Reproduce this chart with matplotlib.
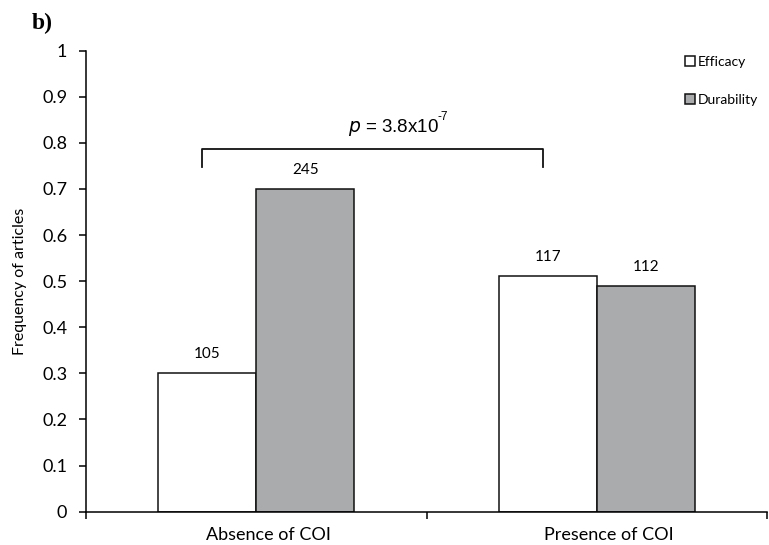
import numpy as np
import matplotlib.pyplot as plt

# Data (counts from the figure, frequencies = count / group total)
groups = ['Absence of COI', 'Presence of COI']
series = ['Efficacy', 'Durability']
counts_efficacy = [105, 117]
counts_durability = [245, 112]
freq_efficacy = [0.30, 0.511]
freq_durability = [0.70, 0.489]

plt.rcParams['font.family'] = ['Lato', 'DejaVu Sans']

fig = plt.figure(figsize=(7.69, 5.45), dpi=100)
ax = fig.add_axes([86 / 769, 1 - 511.7 / 545, 681 / 769, 461 / 545])

x = np.arange(len(groups))
w = 0.288
ax.bar(x - w / 2, freq_efficacy, w, color='white', edgecolor='#111111', linewidth=1.1, label=series[0])
ax.bar(x + w / 2, freq_durability, w, color='#a9abac', edgecolor='#111111', linewidth=1.1, label=series[1])

for i in range(len(groups)):
    ax.text(x[i] - w / 2, freq_efficacy[i] + 0.041, str(counts_efficacy[i]), ha='center', va='center', fontsize=11)
    ax.text(x[i] + w / 2, freq_durability[i] + 0.041, str(counts_durability[i]), ha='center', va='center', fontsize=11)

# significance bracket
bx0, bx1, btop, bbot = -0.159, 0.842, 0.787, 0.747
ax.plot([bx0, bx0, bx1, bx1], [bbot, btop, btop, bbot], color='#111111', lw=1.3, clip_on=False)
ax.text(0.269, 0.824, r'$\it{p}$ = 3.8x10', ha='left', va='baseline', fontsize=13.5,
        family='Liberation Sans')
ax.text(0.533, 0.850, '-7', ha='left', va='baseline', fontsize=8.5, family='Liberation Sans')

ax.set_xlim(-0.5, 1.5)
ax.set_ylim(0, 1)
ax.set_yticks(np.arange(0, 1.01, 0.1))
ax.set_yticklabels(['0'] + ['%.1f' % v for v in np.arange(0.1, 0.95, 0.1)] + ['1'])
ax.set_xticks([-0.5, 0.5, 1.5])
ax.set_xticklabels([])
ax.tick_params(axis='x', which='major', length=5, width=1.1, direction='out')
ax.tick_params(axis='y', length=5, width=1.1, labelsize=13, direction='out', pad=8.5)
for i in range(len(groups)):
    ax.text(x[i] + 0.035, -0.05, groups[i], ha='center', va='center', fontsize=13)
ax.set_ylabel('Frequency of articles', fontsize=11.5)
ax.yaxis.set_label_coords(-0.087, 0.5)

ax.spines['top'].set_visible(False)
ax.spines['right'].set_visible(False)
ax.spines['left'].set_linewidth(1.1)
ax.spines['bottom'].set_linewidth(1.1)

fig.legend(loc='upper left', bbox_to_anchor=(685 / 769, 1 - 56 / 545), frameon=False, fontsize=10,
           handlelength=0.7, handleheight=0.7, handletextpad=0.25, labelspacing=1.85,
           borderpad=0, borderaxespad=0)

fig.text(32 / 769, 1 - 23 / 545, 'b)', fontsize=17, fontweight='bold', family='Liberation Serif',
         ha='left', va='center')

fig.savefig('out.png', dpi=100)
